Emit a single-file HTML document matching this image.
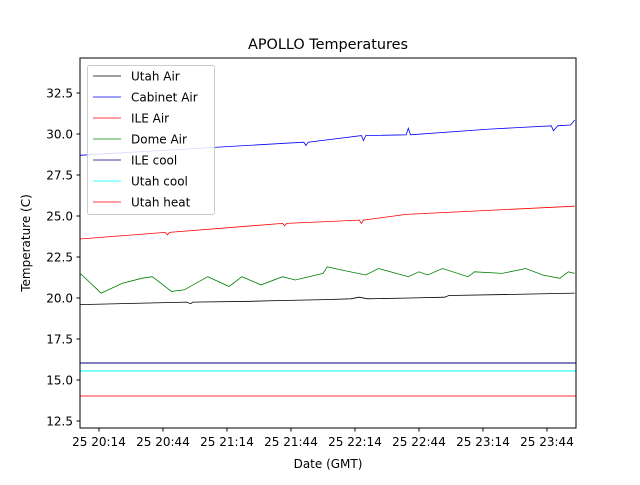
<!DOCTYPE html>
<html><head><meta charset="utf-8"><style>
body{margin:0;background:#fff}
svg{font-family:"DejaVu Sans","Liberation Sans",sans-serif}
</style></head><body>
<svg id="chart" width="640" height="480" viewBox="0 0 640 480">
<rect width="640" height="480" fill="#fff"/>
<text x="328" y="49" font-size="14.4" text-anchor="middle">APOLLO Temperatures</text>
<g id="plot"></g>
<rect x="80" y="58" width="496" height="370" fill="none" stroke="#000" stroke-width="1"/>
<g id="ticks"></g>
<text transform="translate(30,243) rotate(-90)" font-size="12" text-anchor="middle">Temperature (C)</text>
<text x="328" y="468" font-size="12" text-anchor="middle">Date (GMT)</text>
<g id="legend"></g>
</svg>
<script>
// minutes since 20:00
const xTickMinutes=[14,44,74,104,134,164,194,224];
const xTickLabels=["25 20:14","25 20:44","25 21:14","25 21:44","25 22:14","25 22:44","25 23:14","25 23:44"];
const yTicks=[12.5,15.0,17.5,20.0,22.5,25.0,27.5,30.0,32.5];
const utahAirT=[5,40,55,57,58,85,100,120,132,136,140,160,176,178,200,220,237];
const utahAirV=[19.6,19.7,19.75,19.65,19.75,19.8,19.85,19.9,19.95,20.05,19.95,20.0,20.05,20.15,20.2,20.25,20.3];
const domeT=[5,6,15,25,34,39,48,54,65,75,81,90,100,106,119,121,128,139,145,159,164,168,175,187,190,203,214,222,230,234,237];
const domeV=[21.5,21.4,20.3,20.9,21.2,21.3,20.4,20.5,21.3,20.7,21.3,20.8,21.3,21.1,21.5,21.9,21.7,21.4,21.8,21.3,21.6,21.4,21.8,21.3,21.6,21.5,21.8,21.4,21.2,21.6,21.5];
const cabinetT=[5,70,110,111,112,137,138,139,158,159,160,197,226,227,229,235,237];
const cabinetV=[28.7,29.2,29.5,29.3,29.5,29.9,29.6,29.9,29.95,30.35,29.95,30.3,30.5,30.2,30.5,30.55,30.85];
const ileAirT=[5,45,46,47,100,101,102,136,137,138,158,237];
const ileAirV=[23.6,24.0,23.85,24.0,24.55,24.4,24.55,24.75,24.55,24.75,25.1,25.6];
const ileCoolV=16.05, utahCoolV=15.55, utahHeatV=14.05;
const legendNames=["Utah Air","Cabinet Air","ILE Air","Dome Air","ILE cool","Utah cool","Utah heat"];
const legendColors=["#000","#00f","#f00","#008000","#000080","#0ff","#f00"];

const X0=80,X1=576,Y0=428,Y1=58;
const xScale=m=>99+(m-14)*64/30;
const yScale=v=>421-(v-12.5)*16.4;
const NS="http://www.w3.org/2000/svg";
const plot=document.getElementById('plot'),ticks=document.getElementById('ticks'),leg=document.getElementById('legend');
function mk(t,a,p){const e=document.createElementNS(NS,t);for(const k in a)e.setAttribute(k,a[k]);p.appendChild(e);return e;}
function series(T,V,color,name){
  const d=T.map((t,i)=>(i?'L':'M')+xScale(t).toFixed(1)+','+yScale(V[i]).toFixed(1)).join('');
  const p=mk('path',{d:d,fill:'none',stroke:color,'stroke-width':0.8},plot);
  
  
}
function flat(v,color,name){
  const r=mk('rect',{x:X0,width:X1-X0,y:Math.round(yScale(v))-0.5,height:1,fill:color},plot);
  
  
}
series(utahAirT,utahAirV,'#000','utah-air-line');
series(domeT,domeV,'#008000','dome-air-line');
series(cabinetT,cabinetV,'#00f','cabinet-air-line');
series(ileAirT,ileAirV,'#f00','ile-air-line');
flat(ileCoolV,'#000080','ile-cool-line');
flat(utahCoolV,'#0ff','utah-cool-line');
flat(utahHeatV,'#ff3030','utah-heat-line');
yTicks.forEach(v=>{
  const y=yScale(v);
  mk('line',{x1:76.5,x2:80,y1:y,y2:y,stroke:'#000'},ticks);
  const t=mk('text',{x:73,y:y+4.5,'font-size':12,'text-anchor':'end'},ticks);
  t.textContent=v.toFixed(1);
  
  
});
xTickMinutes.forEach((m,i)=>{
  const x=xScale(m);
  mk('line',{x1:x,x2:x,y1:428,y2:431.5,stroke:'#000'},ticks);
  const t=mk('text',{x:x,y:446,'font-size':12,'text-anchor':'middle'},ticks);
  t.textContent=xTickLabels[i];
  
  
});
const box=mk('rect',{x:87.5,y:65.5,width:127,height:149,rx:2,fill:'#fff','fill-opacity':0.85,stroke:'#ccc'},leg);


legendNames.forEach((n,i)=>{
  const y=76+i*21;
  const g=mk('g',{},leg);
  
  
  mk('line',{x1:93,x2:121,y1:y,y2:y,stroke:legendColors[i],'stroke-width':0.8},g);
  const t=mk('text',{x:131,y:y+4.5,'font-size':12},g);
  t.textContent=n;
});
</script>
</body></html>
